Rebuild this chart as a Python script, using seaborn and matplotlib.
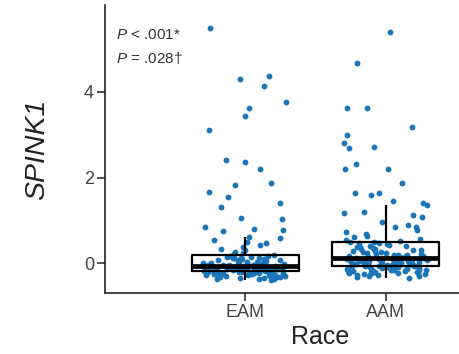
import numpy as np
import pandas as pd
import seaborn as sns
from matplotlib import pyplot as plt

sns.set_style('ticks')
plt.rcParams['font.family'] = ['Liberation Sans', 'DejaVu Sans']
plt.rcParams['mathtext.fontset'] = 'custom'
plt.rcParams['mathtext.it'] = 'Liberation Sans:italic'
plt.rcParams['mathtext.rm'] = 'Liberation Sans'

races = ['EAM', 'AAM']

# SPINK1 values (sorted roughly high to low)
eam = [5.50, 4.37, 4.30, 4.14, 3.77, 3.63, 3.44, 3.11, 2.40, 2.36, 2.20, 1.87,
       1.82, 1.66, 1.54, 1.40, 1.31, 1.05, 1.03, 0.84, 0.80, 0.78, 0.76,
       0.62, 0.58, 0.55, 0.50, 0.46, 0.42, 0.38, 0.33, 0.30, 0.27, 0.24, 0.21,
       0.18, 0.17, 0.16, 0.15, 0.14, 0.13, 0.12, 0.12, 0.11, 0.10, 0.09, 0.08,
       0.07, 0.07, 0.06, 0.05, 0.04, 0.03, 0.03, 0.02, 0.01, 0.00, 0.00, -0.01,
       -0.02, -0.02, -0.03, -0.04, -0.04, -0.05, -0.05, -0.06, -0.06, -0.07, -0.07,
       -0.08, -0.08, -0.08, -0.09, -0.09, -0.09, -0.10, -0.10, -0.10, -0.10,
       -0.11, -0.11, -0.11, -0.12, -0.12, -0.12, -0.12, -0.13, -0.13, -0.13,
       -0.13, -0.14, -0.14, -0.14, -0.14, -0.15, -0.15, -0.15, -0.15, -0.16,
       -0.16, -0.16, -0.16, -0.17, -0.17,
       -0.18, -0.18, -0.19, -0.19, -0.20, -0.20, -0.21, -0.21, -0.22, -0.22,
       -0.23, -0.23, -0.24, -0.24, -0.25, -0.25, -0.26, -0.26, -0.27, -0.27,
       -0.28, -0.28, -0.29, -0.30, -0.30, -0.31, -0.32, -0.32, -0.33, -0.34,
       -0.35, -0.36, -0.37, -0.38, -0.40]

aam = [5.40, 4.68, 3.63, 3.63, 3.18, 3.00, 2.80, 2.71, 2.69, 2.32, 2.20, 2.20,
       1.87, 1.64, 1.64, 1.60, 1.45,
       1.40, 1.35, 1.20, 1.17, 1.12, 1.08, 0.96, 0.90, 0.85, 0.85, 0.78, 0.72,
       0.68, 0.64, 0.60, 0.57, 0.54, 0.52,
       0.50, 0.49, 0.47, 0.46, 0.44, 0.43, 0.41, 0.40, 0.38, 0.37, 0.35, 0.34,
       0.33, 0.31, 0.30, 0.29, 0.28, 0.26, 0.25, 0.24, 0.23, 0.22, 0.21, 0.20,
       0.19, 0.18, 0.17, 0.16, 0.16, 0.15, 0.14, 0.14, 0.13, 0.13, 0.12,
       0.11, 0.11, 0.10, 0.10, 0.09, 0.08, 0.08, 0.07, 0.06, 0.06, 0.05, 0.04,
       0.04, 0.03, 0.02, 0.02, 0.01, 0.00, 0.00, -0.01, -0.01, -0.02, -0.03,
       -0.03, -0.04, -0.04, -0.05, -0.05, -0.05, -0.06, -0.06, -0.06, -0.07,
       -0.07, -0.07,
       -0.08, -0.09, -0.09, -0.10, -0.11, -0.11, -0.12, -0.12, -0.13, -0.14,
       -0.14, -0.15, -0.15, -0.16, -0.17, -0.17, -0.18, -0.18, -0.19, -0.20,
       -0.20, -0.21, -0.22, -0.22, -0.23, -0.24, -0.24, -0.25, -0.26, -0.27,
       -0.28, -0.29, -0.30, -0.32, -0.35]

df = pd.DataFrame({'Race': ['EAM'] * len(eam) + ['AAM'] * len(aam),
                   'SPINK1': eam + aam})

np.random.seed(7)
fig = plt.figure(figsize=(4.59, 3.54), dpi=100)
# panel runs past the right edge, as in the cropped original
ax = fig.add_axes([0.229, 0.172, 0.935, 0.814])

sns.stripplot(data=df, x='Race', y='SPINK1', order=races, color='#1b75b6',
              size=4.2, jitter=0.3, linewidth=0, ax=ax, zorder=1)
sns.boxplot(data=df, x='Race', y='SPINK1', order=races, fill=False, width=0.76,
            showfliers=False, whis=1.5, color='black', linecolor='#111111',
            linewidth=1.6, medianprops={'linewidth': 3.4},
            capprops={'visible': False}, ax=ax, zorder=3)

ax.set_xlim(-1.0, 2.06)
ax.set_ylim(-0.70, 6.03)
ax.set_yticks([0, 2, 4])
sns.despine(ax=ax)
for s in ['left', 'bottom']:
    ax.spines[s].set_linewidth(1.2)
    ax.spines[s].set_color('#222222')
ax.tick_params(axis='both', labelsize=13, colors='#222222', labelcolor='#444444',
               length=5.5, width=1.1, pad=2.5)
ax.set_xlabel('Race', fontsize=18, color='#222222', labelpad=3)
ax.set_ylabel('SPINK1', fontsize=20.5, style='italic', color='#222222', labelpad=24)

ax.text(-0.92, 5.24, r'$\it{P}$ < .001*', fontsize=11, color='#333333', va='baseline')
ax.text(-0.92, 4.68, r'$\it{P}$ = .028†', fontsize=11, color='#333333', va='baseline')

fig.savefig('out.png', dpi=100)
